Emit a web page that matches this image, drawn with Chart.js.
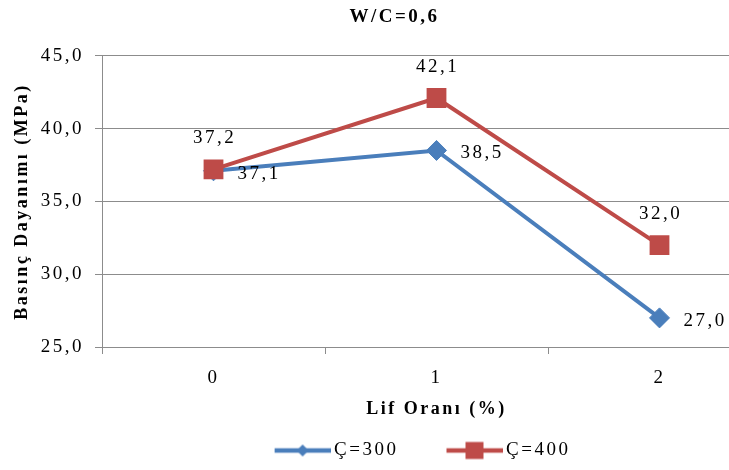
<!DOCTYPE html>
<html>
<head>
<meta charset="utf-8">
<script src="https://cdn.jsdelivr.net/npm/chart.js@4"></script>
<style>
    html, body { margin: 0; padding: 0; background: #fff; overflow: hidden; }
    #wrap { width: 790px; height: 470px; position: relative; }
</style>
</head>
<body>
<div id="wrap"><canvas id="wcChart"></canvas></div>
<script>
// data
const fiberRatio = ["0", "1", "2"];
const c300 = [37.1, 38.5, 27.0];
const c400 = [37.2, 42.1, 32.0];
const seriesNames = ["Ç=300", "Ç=400"];
const yMin = 25;
const yMax = 45;
const yStep = 5;

const colors = {
    blue: "#4a7ebb",
    red: "#be4b48",
    grid: "#8c8c8c",
};
const serif = "'Liberation Serif', 'Times New Roman', serif";

const fmt = (v) => Number(v).toFixed(1).replace(".", ",");

// legend icon: line with the marker in the middle (blank space on the left)
function legendIcon(color, shape) {
    const c = document.createElement("canvas");
    c.width = 108;
    c.height = 20;
    const g = c.getContext("2d");
    g.strokeStyle = color;
    g.lineWidth = 4.5;
    g.beginPath();
    g.moveTo(52, 10);
    g.lineTo(108, 10);
    g.stroke();
    g.fillStyle = color;
    const cx = 80;
    if (shape === "diamond") {
        g.beginPath();
        g.moveTo(cx, 4);
        g.lineTo(cx + 6, 10);
        g.lineTo(cx, 16);
        g.lineTo(cx - 6, 10);
        g.closePath();
        g.fill();
    } else {
        g.fillRect(cx - 9, 1.5, 18, 17);
    }
    return c;
}
const legendIcons = [legendIcon(colors.blue, "diamond"), legendIcon(colors.red, "square")];

// the original text is spaced out a bit
const spacing = {
    id: "spacing",
    beforeLayout(chart) { chart.ctx.letterSpacing = "2.5px"; },
    beforeDraw(chart) { chart.ctx.letterSpacing = "2.5px"; },
};

// title and legend sit a little right of the centre in the original
const nudge = {
    id: "nudge",
    afterLayout(chart) {
        const shift = (box, dx) => {
            if (!box) return;
            box.left += dx;
            box.right += dx;
        };
        shift(chart.titleBlock, 9);
        shift(chart.legend, 14);
    },
};

// value labels next to the points
const valueLabels = {
    id: "valueLabels",
    afterDatasetsDraw(chart) {
        const ctx = chart.ctx;
        ctx.save();
        ctx.font = "19px " + serif;
        ctx.fillStyle = "#000";
        ctx.textBaseline = "middle";
        chart.data.datasets.forEach((ds, i) => {
            const meta = chart.getDatasetMeta(i);
            meta.data.forEach((pt, j) => {
                const txt = fmt(ds.data[j]);
                if (i === 0) {
                    ctx.textAlign = "left";
                    ctx.fillText(txt, pt.x + 24, pt.y + 3);
                } else {
                    ctx.textAlign = "center";
                    ctx.fillText(txt, pt.x + 1, pt.y - 31);
                }
            });
        });
        ctx.restore();
    },
};

new Chart(document.getElementById("wcChart"), {
    type: "line",
    data: {
        labels: fiberRatio,
        datasets: [
            {
                label: seriesNames[0],
                data: c300,
                borderColor: colors.blue,
                backgroundColor: colors.blue,
                borderWidth: 4,
                tension: 0,
                pointStyle: "rectRot",
                pointRadius: 10,
                pointBorderWidth: 1,
                pointBackgroundColor: colors.blue,
                pointBorderColor: colors.blue,
                order: 1,
            },
            {
                label: seriesNames[1],
                data: c400,
                borderColor: colors.red,
                backgroundColor: colors.red,
                borderWidth: 4,
                tension: 0,
                pointStyle: "rect",
                pointRadius: 14,
                pointBorderWidth: 0,
                pointBackgroundColor: colors.red,
                pointBorderColor: colors.red,
                order: 0,
            },
        ],
    },
    options: {
        responsive: true,
        maintainAspectRatio: false,
        animation: false,
        events: [],
        layout: { padding: { left: 0, right: 19, top: 0, bottom: 0 } },
        plugins: {
            title: {
                display: true,
                text: "W/C=0,6",
                color: "#000",
                font: { family: serif, size: 19, weight: "bold" },
                padding: { top: 6, bottom: 27 },
            },
            legend: {
                position: "bottom",
                labels: {
                    color: "#000",
                    font: { family: serif, size: 19 },
                    usePointStyle: true,
                    pointStyleWidth: 96,
                    padding: 2,
                    sort: (a, b) => a.datasetIndex - b.datasetIndex,
                    generateLabels(chart) {
                        const items = Chart.defaults.plugins.legend.labels.generateLabels(chart);
                        items.forEach((it) => { it.pointStyle = legendIcons[it.datasetIndex]; });
                        return items;
                    },
                },
            },
            tooltip: { enabled: false },
        },
        scales: {
            x: {
                offset: true,
                afterFit(scale) { scale.height = 92; },
                grid: {
                    offset: true,
                    drawOnChartArea: false,
                    drawTicks: true,
                    tickLength: 7,
                    color: colors.grid,
                },
                border: { display: true, color: colors.grid, width: 1 },
                ticks: {
                    color: "#000",
                    font: { family: serif, size: 19 },
                    padding: 13,
                },
                title: {
                    display: true,
                    text: "Lif Oranı (%)",
                    color: "#000",
                    font: { family: serif, size: 18, weight: "bold" },
                    padding: { top: 0, bottom: 19 },
                },
            },
            y: {
                min: yMin,
                max: yMax,
                afterFit(scale) { scale.width = 102; },
                grid: {
                    color: colors.grid,
                    drawTicks: true,
                    tickLength: 7,
                },
                border: { display: true, color: colors.grid, width: 1 },
                ticks: {
                    stepSize: yStep,
                    color: "#000",
                    font: { family: serif, size: 19 },
                    padding: 11,
                    callback: (v) => fmt(v),
                },
                title: {
                    display: true,
                    text: "Basınç Dayanımı (MPa)",
                    color: "#000",
                    font: { family: serif, size: 18, weight: "bold" },
                    padding: { top: 12, bottom: 0 },
                },
            },
        },
    },
    plugins: [spacing, nudge, valueLabels],
});
</script>
</body>
</html>
